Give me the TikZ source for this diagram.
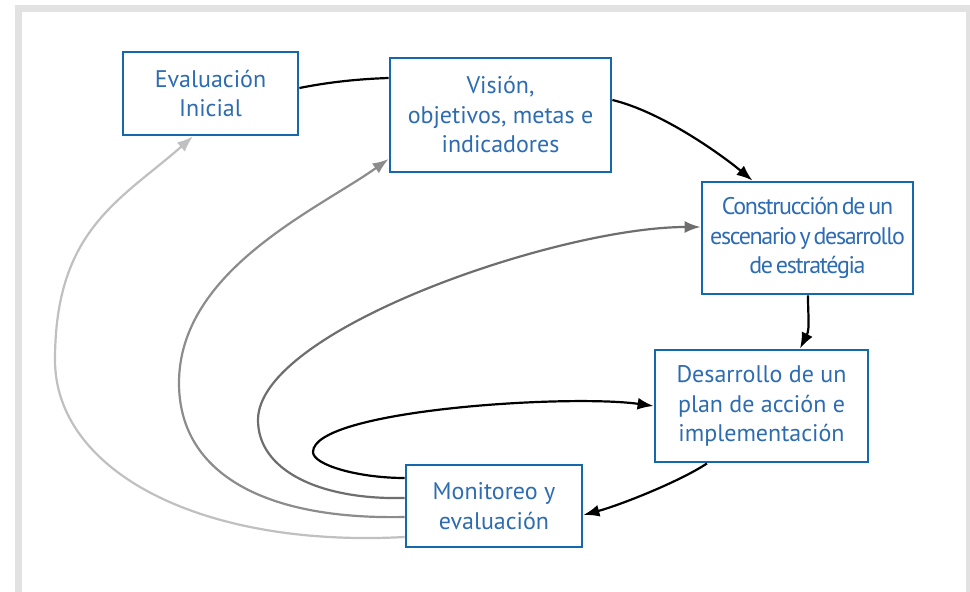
\documentclass[tikz,border=0pt]{standalone}
\usepackage{fontspec}
\setmainfont{PT Sans}
\newfontfamily\tightfont[LetterSpace=-5.5,WordSpace=0.55]{PT Sans}
\usetikzlibrary{arrows.meta}
\definecolor{boxblue}{RGB}{22,104,172}
\definecolor{textblue}{RGB}{45,108,178}
\definecolor{framegray}{RGB}{226,226,226}
\definecolor{loopdark}{RGB}{110,110,110}
\definecolor{loopmid}{RGB}{140,140,140}
\definecolor{looplight}{RGB}{192,192,192}
\tikzset{
  stage/.style={draw=boxblue,line width=2.8pt,fill=white,text=textblue,align=center,inner sep=0pt,font=\fontsize{24}{29.5}\selectfont},
  tight/.style={font=\tightfont\fontsize{24}{29.5}\selectfont},
  flow/.style={line width=2.2pt}
}
\begin{document}
\begin{tikzpicture}[x=1pt,y=-1pt,>={Latex[length=16pt,width=12pt]}]
\useasboundingbox (0,0) rectangle (970,592);
\fill[framegray] (15,5) rectangle (970,592);
\fill[white] (22,12) rectangle (966,592);
\node[stage,minimum width=175pt,minimum height=83pt] (ini) at (210.5,93.5) {Evaluación\\Inicial};
\node[stage,minimum width=221pt,minimum height=114pt] (vis) at (500.5,115) {Visión,\\objetivos, metas e\\indicadores};
\node[stage,tight,minimum width=211pt,minimum height=112pt] (con) at (807.5,238) {Construcción de un\\escenario y desarrollo\\de estratégia};
\node[stage,minimum width=213pt,minimum height=112pt] (des) at (761.5,406) {Desarrollo de un\\plan de acción e\\implementación};
\node[stage,minimum width=176pt,minimum height=82pt] (mon) at (494,506) {Monitoreo y\\evaluación};
\draw[flow] ([yshift=5.5pt]ini.east) .. controls +(30,-6) and +(-30,1) .. ([yshift=37pt]vis.west);
\draw[flow,->] ([yshift=15pt]vis.east) .. controls +(50,12) and +(-30,-25) .. ([xshift=-55pt]con.north);
\draw[flow,->] ([xshift=0.5pt]con.south) .. controls +(0,22) and +(10,-20) .. ([xshift=38.5pt]des.north);
\draw[flow,->] ([xshift=-54.5pt]des.south) .. controls +(-27,18) and +(37,-10) .. ([yshift=-9pt]mon.east);
\draw[flow,->] ([yshift=28pt]mon.west) .. controls +(-46,0) and +(0,13) .. (313,452) .. controls +(0,-42) and +(-85,-12) .. (des.west);
\draw[flow,->,loopdark] ([yshift=8pt]mon.west) .. controls +(-86,2) and +(0,50) .. (258,420) .. controls +(0,-90) and +(-142,0) .. ([yshift=11pt]con.west);
\draw[flow,->,loopmid] ([yshift=-11pt]mon.west) .. controls +(-146,3) and +(0,87) .. (179,383) .. controls +(0,-113) and +(-70,50) .. ([yshift=-44pt]vis.west);
\draw[flow,->,looplight] ([yshift=-31pt]mon.west) .. controls +(-206,11) and +(0,110) .. (55,360) .. controls +(0,-130) and +(-73,64) .. ([xshift=-17.5pt]ini.south);
\end{tikzpicture}
\end{document}
